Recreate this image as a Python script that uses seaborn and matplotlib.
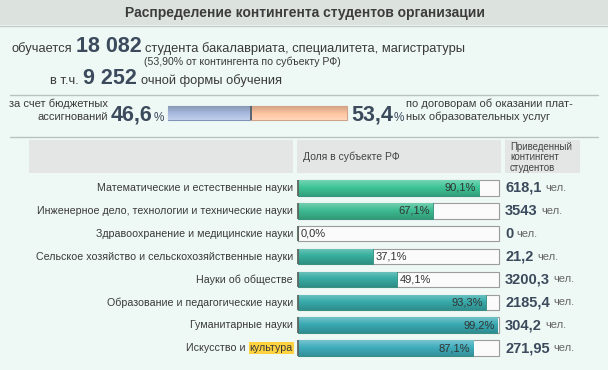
import matplotlib
matplotlib.use('Agg')
import matplotlib.pyplot as plt
import matplotlib.patches as mpatches
import matplotlib.colors as mcolors
import numpy as np
import seaborn as sns
import pandas as pd

# --- data ------------------------------------------------------------------
title = 'Распределение контингента студентов организации'
students_total = '18 082'
students_share = '53,90%'
fulltime_total = '9 252'
budget_share = 46.6
paid_share = 53.4

categories = [
    'Математические и естественные науки',
    'Инженерное дело, технологии и технические науки',
    'Здравоохранение и медицинские науки',
    'Сельское хозяйство и сельскохозяйственные науки',
    'Науки об обществе',
    'Образование и педагогические науки',
    'Гуманитарные науки',
    'Искусство и культура',
]
region_share = [90.1, 67.1, 0.0, 37.1, 49.1, 93.3, 99.2, 87.1]
contingent = [618.1, 3543, 0, 21.2, 3200.3, 2185.4, 304.2, 271.95]
highlight_word = 'культура'

bar_colors = ['#3ec497', '#3dbc92', '#3ab39c', '#38b09f', '#39ada5',
              '#39acac', '#3aaab3', '#40aebd']

# --- style -----------------------------------------------------------------
sns.set_style('white')
plt.rcParams['font.family'] = ['Liberation Sans', 'DejaVu Sans']
TXT = '#3a3a3a'
NUM = '#3b4a5c'
BG = '#eef8f4'

W, H = 608, 370
fig = plt.figure(figsize=(W / 100, H / 100), dpi=100)
fig.patch.set_facecolor(BG)
renderer = fig.canvas.get_renderer()


def rect(x0, y0, x1, y1, **kw):
    # pixel box measured from the top-left corner of the picture
    fig.add_artist(mpatches.Rectangle((x0 / W, 1 - y1 / H), (x1 - x0) / W,
                                      (y1 - y0) / H, transform=fig.transFigure, **kw))


def hline(y, x0=10, x1=598, color='#b9c2be'):
    fig.add_artist(plt.Line2D([x0 / W, x1 / W], [1 - y / H] * 2, color=color,
                              lw=1, transform=fig.transFigure))


def run(x, y, pieces, gap=4, va='baseline'):
    # place text pieces one after another on one line (display pixels)
    for txt, kw in pieces:
        t = fig.text(x / W, y / H, txt, ha='left', va=va, **kw)
        x += t.get_window_extent(renderer).width + gap
    return x


def shade(ax, patch, color):
    # soft vertical gradient inside a bar, like the glossy bars of the original
    if patch.get_width() <= 0:
        return
    c = np.array(mcolors.to_rgb(color))
    top, bot = c + (1 - c) * 0.28, c * 0.82
    t = np.linspace(0, 1, 32)[:, None]
    grad = np.where(t < 0.45, top + (c - top) * (t / 0.45),
                    c + (bot - c) * ((t - 0.45) / 0.55))
    x0, y0 = patch.get_x(), patch.get_y()
    im = ax.imshow(grad[:, None, :], extent=(x0, x0 + patch.get_width(),
                                             y0 + patch.get_height(), y0),
                   origin='upper', aspect='auto', zorder=patch.get_zorder() + 0.1,
                   interpolation='bilinear')
    im.set_clip_path(patch)
    im.set_clip_on(True)


# header band
rect(0, 0, W, 25, facecolor='#dce3df', edgecolor='none')
hline(25.5, 0, W, color='#c3cbc7')
fig.text(305 / W, 1 - 13 / H, title, ha='center', va='center', fontsize=10,
         fontweight='bold', color='#3c3c3c')

# summary lines
body = dict(fontsize=9.3, color=TXT)
big = dict(fontsize=15.5, fontweight='bold', color=NUM)
run(11, H - 52, [('обучается', body), (students_total, big),
                 ('студента бакалавриата, специалитета, магистратуры', body)])
run(144, H - 65, [(f'({students_share} от контингента по субъекту РФ)',
                   dict(fontsize=7.6, color=TXT))])
run(50, H - 84, [('в т.ч.', body), (fulltime_total, big),
                 ('очной формы обучения', body)])

hline(95.5)
hline(136.5)

# budget / paid split
small = dict(fontsize=8, color=TXT)
fig.text(108 / W, 1 - 107 / H, 'за счет бюджетных', ha='right', va='baseline', **small)
fig.text(108 / W, 1 - 120 / H, 'ассигнований', ha='right', va='baseline', **small)
pct = dict(fontsize=8.5, color=NUM)
run(111, H - 121, [(f'{budget_share:.1f}'.replace('.', ','), big), ('%', pct)], gap=0.5)
run(351, H - 121, [(f'{paid_share:.1f}'.replace('.', ','), big), ('%', pct)], gap=0.5)
fig.text(406 / W, 1 - 107 / H, 'по договорам об оказании плат-', ha='left',
         va='baseline', **small)
fig.text(406 / W, 1 - 120 / H, 'ных образовательных услуг', ha='left',
         va='baseline', **small)

ax2 = fig.add_axes([168 / W, 1 - 120 / H, (347 - 168) / W, 14 / H])
ax2.barh(0, budget_share, height=1, color='#a8bbe0', edgecolor='#8193b8', lw=0.8)
ax2.barh(0, paid_share, left=budget_share, height=1, color='#ffc6a2',
         edgecolor='#cfa28a', lw=0.8)
for p, c in zip(list(ax2.patches), ['#a8bbe0', '#ffc6a2']):
    shade(ax2, p, c)
ax2.axvline(budget_share, color='#5a6470', lw=1.4, zorder=5)
ax2.set_xlim(0, 100)
ax2.set_ylim(-0.5, 0.5)
ax2.axis('off')
for p in ax2.patches:
    p.set_clip_on(False)

# table header
hdr = '#e3e6e4'
rect(29, 140, 293, 173, facecolor=hdr, edgecolor='none')
rect(297, 140, 501, 173, facecolor=hdr, edgecolor='none')
rect(505, 140, 580, 173, facecolor=hdr, edgecolor='none')
fig.text(303 / W, 1 - 157 / H, 'Доля в субъекте РФ', ha='left', va='center',
         fontsize=7.5, color='#444444')
fig.text(510 / W, 1 - 142 / H, 'Приведенный\nконтингент\nстудентов', ha='left',
         va='top', fontsize=7, color='#444444', linespacing=1.05)

# --- bar table -------------------------------------------------------------
df = pd.DataFrame({'category': categories, 'share': region_share,
                   'full': [100] * len(categories)})

ax = fig.add_axes([298 / W, 1 - 359.5 / H, 201 / W, 183 / H])
ax.set_facecolor('none')
sns.barplot(data=df, x='full', y='category', color='#fbfbfb', edgecolor='#9c9c9c',
            linewidth=0.8, width=0.68, orient='h', ax=ax)
n_bg = len(ax.patches)
sns.barplot(data=df, x='share', y='category', hue='category', palette=bar_colors,
            edgecolor='#2f8f7c', linewidth=0.6, width=0.68, orient='h',
            legend=False, ax=ax)
for p in ax.patches:
    p.set_clip_on(False)
for p, c in zip(list(ax.patches)[n_bg:], bar_colors):
    shade(ax, p, c)
ax.set_xlim(0, 100)
ax.set_ylim(len(categories) - 0.5, -0.5)
ax.axis('off')
rows = list(range(len(categories)))
ax.vlines([0] * len(rows), [i - 0.34 for i in rows], [i + 0.34 for i in rows],
          color='#5e6660', lw=1.3, clip_on=False, zorder=5)

px = 100 / 201  # data units per pixel along x
lab = dict(fontsize=7.7, color=TXT)
for i, (cat, v, n) in enumerate(zip(categories, region_share, contingent)):
    # category label, right aligned left of the bars
    if highlight_word in cat:
        head = cat[:cat.index(highlight_word)]
        t = ax.text(-5 * px, i, highlight_word, ha='right', va='center',
                    bbox=dict(facecolor='#ffd23f', edgecolor='none', pad=0.6), **lab)
        left = t.get_window_extent(renderer).x0
        fig.text((left - 1.5) / W, ax.transData.transform((0, i))[1] / H, head,
                 ha='right', va='center', **lab)
    else:
        ax.text(-5 * px, i, cat, ha='right', va='center', **lab)

    lbl = f'{v:.1f}%'.replace('.', ',')
    if v >= 60:
        ax.text(v - 3 * px, i, lbl, ha='right', va='center', fontsize=8,
                color='#333333', zorder=6)
    else:
        ax.text(v + 3 * px, i, lbl, ha='left', va='center', fontsize=8,
                color='#333333', zorder=6)

    yd = ax.transData.transform((0, i))[1]
    run(505, yd, [(f'{n:g}'.replace('.', ','),
                   dict(fontsize=10.5, fontweight='bold', color=NUM)),
                  ('чел.', dict(fontsize=8, color='#666666'))], gap=3.5, va='center')

fig.savefig('out.png', dpi=100, facecolor=BG)
